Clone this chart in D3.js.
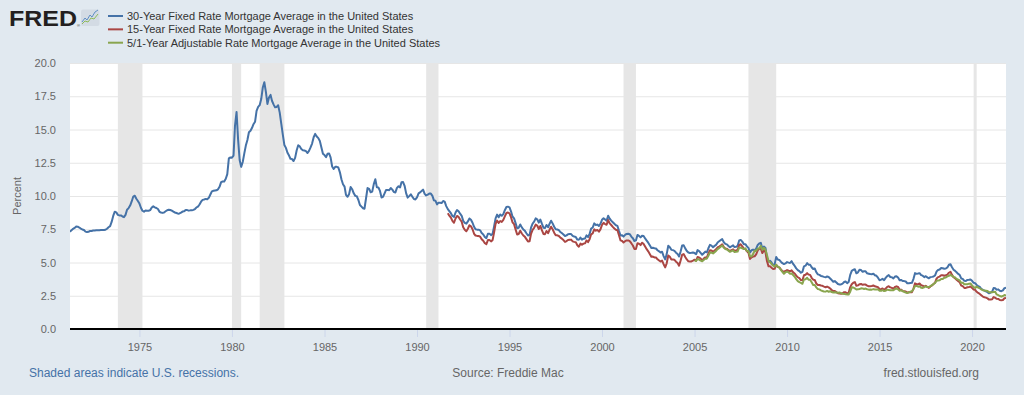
<!DOCTYPE html>
<html>
<head>
<meta charset="utf-8">
<script src="https://cdn.jsdelivr.net/npm/d3@7"></script>
<style>
  html, body { margin: 0; padding: 0; background: #e1e9f0; }
  svg { display: block; font-family: "Liberation Sans", Arial, sans-serif; }
</style>
</head>
<body>
<div id="chart"></div>
<script>
// monthly values (percent)
var start30 = "1971-04";
var rate30 = [
  7.31,7.43,7.53,7.60,7.70,7.69,7.63,7.55,7.48,                 // 1971
  7.44,7.32,7.29,7.31,7.37,7.37,7.40,7.40,7.42,7.42,7.43,7.44,  // 1972
  7.44,7.44,7.46,7.54,7.65,7.73,8.05,8.50,8.82,8.77,8.58,8.54,  // 1973
  8.54,8.46,8.41,8.58,8.97,9.09,9.28,9.59,9.96,10.02,9.79,9.62, // 1974
  9.43,9.10,8.89,8.82,8.91,8.89,8.89,8.94,9.13,9.22,9.15,9.10,  // 1975
  9.02,8.81,8.76,8.73,8.76,8.85,8.93,8.97,8.95,8.90,8.82,8.76,  // 1976
  8.72,8.67,8.69,8.75,8.83,8.86,8.94,8.94,8.90,8.92,8.92,8.96,  // 1977
  9.02,9.15,9.20,9.36,9.57,9.71,9.74,9.78,9.76,9.86,10.11,10.35,// 1978
  10.39,10.41,10.43,10.50,10.69,11.04,11.09,11.09,11.30,11.64,12.83,12.90, // 1979
  12.88,13.04,15.28,16.32,14.26,12.71,12.19,12.56,13.20,13.79,14.21,14.79, // 1980
  14.90,15.13,15.40,15.58,16.40,16.70,16.83,17.29,18.16,18.55,17.83,16.92, // 1981
  17.40,17.60,17.16,16.89,16.68,16.70,16.82,16.27,15.43,14.61,13.83,13.62, // 1982
  13.25,13.04,12.80,12.78,12.63,12.87,13.42,13.81,13.73,13.54,13.44,13.42, // 1983
  13.37,13.23,13.39,13.65,13.94,14.42,14.67,14.47,14.35,14.13,13.64,13.18, // 1984
  13.08,12.92,13.17,13.20,12.91,12.22,12.03,12.19,12.19,12.14,11.78,11.26, // 1985
  10.88,10.71,10.08,9.94,10.14,10.68,10.51,10.20,10.01,9.98,9.70,9.32,     // 1986
  9.20,9.08,9.04,9.83,10.60,10.54,10.28,10.33,10.89,11.26,10.65,10.64,     // 1987
  10.38,9.89,9.93,10.20,10.46,10.46,10.43,10.60,10.48,10.30,10.27,10.61,   // 1988
  10.73,10.65,11.03,11.05,10.77,10.20,9.88,9.99,10.13,9.95,9.77,9.74,      // 1989
  9.90,10.20,10.27,10.37,10.48,10.16,10.04,10.10,10.18,10.18,10.01,9.67,   // 1990
  9.64,9.37,9.50,9.49,9.47,9.62,9.58,9.24,9.01,8.86,8.71,8.50,  // 1991
  8.43,8.76,8.94,8.85,8.67,8.51,8.13,7.98,7.92,8.09,8.31,8.22,  // 1992
  7.99,7.68,7.50,7.47,7.47,7.42,7.21,7.11,6.92,6.83,7.16,7.17,  // 1993
  7.06,7.15,7.68,8.32,8.60,8.40,8.61,8.51,8.64,8.93,9.17,9.20,  // 1994
  9.15,8.83,8.46,8.32,7.96,7.57,7.61,7.86,7.64,7.48,7.38,7.20,  // 1995
  7.03,7.08,7.62,7.93,8.07,8.32,8.25,8.00,8.23,7.92,7.62,7.60,  // 1996
  7.82,7.65,7.90,8.14,7.94,7.69,7.50,7.48,7.43,7.29,7.21,7.10,  // 1997
  6.99,7.04,7.13,7.14,7.14,7.00,6.95,6.92,6.72,6.71,6.87,6.72,  // 1998
  6.79,6.81,7.04,6.92,7.15,7.55,7.63,7.94,7.82,7.85,7.74,7.91,  // 1999
  8.21,8.33,8.24,8.15,8.52,8.29,8.15,8.03,7.91,7.80,7.75,7.38,  // 2000
  7.03,7.05,6.95,7.08,7.15,7.16,7.13,6.95,6.82,6.62,6.66,7.07,  // 2001
  7.00,6.89,7.01,6.99,6.81,6.65,6.49,6.29,6.09,6.11,6.07,6.05,  // 2002
  5.92,5.84,5.75,5.81,5.48,5.23,5.63,6.26,6.15,5.95,5.93,5.88,  // 2003
  5.74,5.64,5.45,5.83,6.27,6.29,6.06,5.87,5.75,5.72,5.73,5.75,  // 2004
  5.71,5.63,5.93,5.86,5.72,5.58,5.70,5.82,5.77,6.07,6.33,6.27,  // 2005
  6.15,6.25,6.32,6.51,6.60,6.68,6.76,6.52,6.40,6.36,6.24,6.14,  // 2006
  6.22,6.29,6.16,6.18,6.26,6.66,6.70,6.57,6.38,6.38,6.21,6.10,  // 2007
  5.76,5.92,5.97,5.92,6.04,6.32,6.43,6.48,6.04,6.20,6.09,5.33,  // 2008
  5.06,5.13,5.00,4.81,4.86,5.42,5.22,5.19,5.06,4.95,4.88,4.93,  // 2009
  5.03,4.99,4.97,5.10,4.89,4.74,4.56,4.43,4.35,4.23,4.30,4.71,  // 2010
  4.76,4.95,4.84,4.84,4.64,4.51,4.55,4.27,4.11,4.07,3.99,3.96,  // 2011
  3.92,3.89,3.95,3.91,3.80,3.68,3.55,3.60,3.50,3.38,3.35,3.35,  // 2012
  3.41,3.53,3.57,3.45,3.54,4.07,4.37,4.46,4.49,4.19,4.26,4.46,  // 2013
  4.43,4.30,4.34,4.34,4.19,4.16,4.13,4.12,4.16,4.04,4.00,3.86,  // 2014
  3.67,3.71,3.77,3.67,3.84,3.98,4.05,3.91,3.89,3.80,3.94,3.96,  // 2015
  3.87,3.66,3.69,3.61,3.60,3.57,3.44,3.44,3.46,3.47,3.77,4.20,  // 2016
  4.15,4.17,4.20,4.05,4.01,3.90,3.97,3.88,3.81,3.90,3.92,3.95,  // 2017
  4.03,4.33,4.44,4.47,4.59,4.57,4.53,4.55,4.63,4.83,4.87,4.64,  // 2018
  4.46,4.37,4.27,4.14,4.07,3.80,3.77,3.62,3.61,3.69,3.70,3.72,  // 2019
  3.62,3.47,3.45,3.31,3.23,3.16,3.02,2.94,2.89,2.83,2.77,2.68,  // 2020
  2.74,2.81,3.08,3.06,2.96,2.98,2.87,2.84,2.90,3.07,3.10       // 2021
];

var start15 = "1991-09";
var rate15 = [
  8.70,8.52,8.37,8.13,                                          // 1991
  7.99,8.31,8.50,8.43,8.23,8.06,7.65,7.46,7.35,7.54,7.80,7.72,  // 1992
  7.50,7.16,7.03,7.00,6.99,6.94,6.75,6.63,6.45,6.38,6.69,6.69,  // 1993
  6.59,6.68,7.23,7.90,8.15,7.97,8.12,8.05,8.20,8.47,8.72,8.76,  // 1994
  8.69,8.39,8.02,7.88,7.49,7.10,7.14,7.39,7.18,7.03,6.93,6.76,  // 1995
  6.58,6.60,7.16,7.46,7.61,7.85,7.78,7.52,7.75,7.43,7.15,7.13,  // 1996
  7.37,7.20,7.46,7.69,7.50,7.24,7.05,7.04,6.99,6.87,6.79,6.69,  // 1997
  6.55,6.61,6.70,6.71,6.72,6.59,6.55,6.53,6.30,6.19,6.42,6.33,  // 1998
  6.42,6.44,6.66,6.53,6.75,7.12,7.19,7.49,7.39,7.45,7.32,7.49,  // 1999
  7.83,7.98,7.89,7.84,8.19,7.94,7.82,7.68,7.56,7.46,7.42,7.05,  // 2000
  6.66,6.62,6.50,6.60,6.66,6.66,6.61,6.45,6.28,6.02,6.02,6.45,  // 2001
  6.41,6.31,6.49,6.40,6.20,6.00,5.84,5.64,5.43,5.45,5.38,5.38,  // 2002
  5.24,5.15,5.07,5.15,4.87,4.63,4.94,5.53,5.43,5.23,5.22,5.20,  // 2003
  5.06,4.96,4.76,5.15,5.58,5.63,5.41,5.23,5.09,5.07,5.08,5.14,  // 2004
  5.21,5.14,5.41,5.38,5.30,5.14,5.30,5.38,5.39,5.67,5.92,5.90,  // 2005
  5.80,5.90,5.99,6.13,6.20,6.28,6.37,6.16,6.06,6.04,5.94,5.87,  // 2006
  5.93,5.99,5.87,5.90,5.96,6.32,6.37,6.22,6.04,6.02,5.84,5.73,  // 2007
  5.27,5.39,5.45,5.47,5.61,5.91,6.03,6.04,5.71,5.91,5.78,5.09,  // 2008
  4.71,4.71,4.61,4.51,4.53,4.82,4.67,4.63,4.48,4.35,4.31,4.36,  // 2009
  4.43,4.38,4.34,4.41,4.26,4.17,4.01,3.89,3.82,3.68,3.66,4.04,  // 2010
  4.08,4.20,4.09,4.07,3.85,3.71,3.69,3.42,3.31,3.31,3.27,3.25,  // 2011
  3.19,3.14,3.19,3.13,3.04,2.93,2.85,2.86,2.77,2.69,2.66,2.65,  // 2012
  2.69,2.77,2.76,2.66,2.73,3.15,3.37,3.48,3.53,3.25,3.28,3.37,  // 2013
  3.39,3.32,3.34,3.34,3.26,3.21,3.22,3.23,3.27,3.21,3.18,3.15,  // 2014
  3.00,2.99,3.05,2.94,3.04,3.17,3.21,3.13,3.09,3.02,3.16,3.21,  // 2015
  3.16,2.96,2.96,2.86,2.84,2.82,2.74,2.77,2.76,2.77,3.04,3.43,  // 2016
  3.37,3.37,3.42,3.29,3.26,3.18,3.25,3.16,3.09,3.20,3.27,3.38,  // 2017
  3.48,3.80,3.90,3.94,4.04,4.04,4.00,4.04,4.09,4.23,4.30,4.07,  // 2018
  3.89,3.81,3.71,3.60,3.53,3.26,3.22,3.09,3.09,3.14,3.16,3.19,  // 2019
  3.09,2.97,2.95,2.80,2.71,2.64,2.54,2.44,2.39,2.36,2.30,2.21,  // 2020
  2.21,2.23,2.40,2.35,2.27,2.26,2.18,2.16,2.18,2.31,2.33       // 2021
];

var startArm = "2005-01";
var rateArm = [
  5.15,5.11,5.26,5.22,5.14,5.09,5.19,5.28,5.29,5.50,5.76,5.74,  // 2005
  5.68,5.78,5.87,6.01,6.08,6.19,6.28,6.11,6.02,5.98,5.89,5.80,  // 2006
  5.86,5.90,5.79,5.80,5.82,6.11,6.12,6.07,6.01,6.06,5.86,5.87,  // 2007
  5.47,5.45,5.63,5.90,5.87,6.05,6.05,6.26,5.94,6.11,5.96,5.54,  // 2008
  5.11,5.02,4.89,4.78,4.69,4.83,4.69,4.61,4.45,4.30,4.15,4.27,  // 2009
  4.31,4.25,4.16,4.17,4.06,3.93,3.75,3.60,3.52,3.47,3.40,3.72,  // 2010
  3.74,3.85,3.71,3.70,3.52,3.31,3.31,3.13,3.00,2.98,2.91,2.86,  // 2011
  2.82,2.81,2.86,2.80,2.84,2.78,2.74,2.77,2.75,2.73,2.75,2.70,  // 2012
  2.65,2.64,2.62,2.59,2.59,2.80,3.13,3.12,3.05,2.97,2.98,3.00,  // 2013
  3.06,3.05,3.01,3.04,2.99,2.96,2.97,2.96,3.00,2.97,2.97,2.98,  // 2014
  2.87,2.87,2.93,2.85,2.87,2.96,2.94,2.92,2.91,2.91,3.00,3.04,  // 2015
  2.98,2.87,2.92,2.84,2.80,2.74,2.70,2.75,2.80,2.84,3.00,3.23,  // 2016
  3.24,3.18,3.21,3.10,3.09,3.14,3.20,3.15,3.15,3.22,3.30,3.38,  // 2017
  3.47,3.63,3.65,3.66,3.76,3.76,3.86,3.88,3.96,4.00,4.07,4.00,  // 2018
  3.92,3.87,3.77,3.71,3.65,3.47,3.48,3.36,3.37,3.36,3.41,3.42,  // 2019
  3.28,3.15,3.09,3.20,3.11,3.06,2.98,2.92,2.90,2.88,2.86,2.77,  // 2020
  2.77,2.76,2.78,2.80,2.60,2.55,2.48,2.43,2.48,2.55,2.52       // 2021
];

var recessions = [
  ["1973-11-01", "1975-03-01"],
  ["1980-01-01", "1980-07-01"],
  ["1981-07-01", "1982-11-01"],
  ["1990-07-01", "1991-03-01"],
  ["2001-03-01", "2001-11-01"],
  ["2007-12-01", "2009-06-01"],
  ["2020-02-01", "2020-04-01"]
];

var yTicks = [0, 2.5, 5, 7.5, 10, 12.5, 15, 17.5, 20];
var xTickYears = [1975, 1980, 1985, 1990, 1995, 2000, 2005, 2010, 2015, 2020];

var seriesNames = [
  "30-Year Fixed Rate Mortgage Average in the United States",
  "15-Year Fixed Rate Mortgage Average in the United States",
  "5/1-Year Adjustable Rate Mortgage Average in the United States"
];
var seriesColors = ["#4572a7", "#aa4643", "#89a54e"];

var parseMonth = d3.timeParse("%Y-%m");
var parseDay = d3.timeParse("%Y-%m-%d");

function toPoints(startMonth, values) {
  var s = parseMonth(startMonth);
  return values.map(function(v, i) {
    return { date: d3.timeMonth.offset(s, i), value: v };
  });
}

var series = [
  toPoints(start30, rate30),
  toPoints(start15, rate15),
  toPoints(startArm, rateArm)
];

var W = 1024, H = 395;
var margin = {top: 63, right: 18, bottom: 66, left: 70};
var width = W - margin.left - margin.right,
    height = H - margin.top - margin.bottom;

var svg = d3.select("#chart").append("svg")
  .attr("width", W)
  .attr("height", H);

svg.append("rect").attr("width", W).attr("height", H).attr("fill", "#e1e9f0");

var x = d3.scaleTime()
  .domain(d3.extent(series[0], function(d) { return d.date; }))
  .range([0, width]);
var y = d3.scaleLinear().domain([0, 20]).range([height, 0]);

var g = svg.append("g")
  .attr("transform", "translate(" + margin.left + "," + margin.top + ")");

g.append("rect")
  .attr("width", width)
  .attr("height", height)
  .attr("fill", "#ffffff");

g.append("clipPath").attr("id", "plotclip")
  .append("rect").attr("width", width).attr("height", height);

// recession bands
g.selectAll(".rec")
  .data(recessions)
  .enter().append("rect")
  .attr("class", "rec")
  .attr("x", function(d) { return x(parseDay(d[0])); })
  .attr("width", function(d) { return x(parseDay(d[1])) - x(parseDay(d[0])); })
  .attr("y", 0)
  .attr("height", height)
  .attr("fill", "#e6e6e6");

// grid + y labels
var yAxis = g.append("g")
  .call(d3.axisLeft(y).tickValues(yTicks).tickFormat(d3.format(".1f")).tickSize(-width).tickPadding(14));
yAxis.select(".domain").remove();
yAxis.selectAll(".tick line").attr("stroke", "#e6e6e6").attr("stroke-width", 1);
yAxis.selectAll(".tick text")
  .attr("fill", "#666666")
  .style("font-size", "11px")
  .style("font-family", "Liberation Sans, Arial, sans-serif");

var line = d3.line()
  .x(function(d) { return x(d.date); })
  .y(function(d) { return y(d.value); });

g.append("g").attr("clip-path", "url(#plotclip)")
  .selectAll(".series")
  .data(series)
  .enter().append("path")
  .attr("class", "series")
  .attr("d", line)
  .attr("fill", "none")
  .attr("stroke", function(d, i) { return seriesColors[i]; })
  .attr("stroke-width", 2)
  .attr("stroke-linejoin", "round");

// x axis
var xAxis = g.append("g")
  .attr("transform", "translate(0," + height + ")")
  .call(d3.axisBottom(x)
    .tickValues(xTickYears.map(function(yr) { return new Date(yr, 0, 1); }))
    .tickFormat(d3.timeFormat("%Y"))
    .tickSizeInner(8).tickSizeOuter(0).tickPadding(6));
xAxis.select(".domain").remove();
xAxis.selectAll(".tick line").attr("stroke", "#ccd6eb").attr("y1", 1);
xAxis.selectAll(".tick text")
  .attr("fill", "#666666")
  .style("font-size", "11px")
  .style("font-family", "Liberation Sans, Arial, sans-serif");
g.append("line")
  .attr("x1", 0).attr("x2", width)
  .attr("y1", height).attr("y2", height)
  .attr("stroke", "#000000").attr("stroke-width", 2);

// y title
svg.append("text")
  .attr("transform", "translate(21," + (margin.top + height / 2) + ") rotate(-90)")
  .attr("text-anchor", "middle")
  .attr("fill", "#666666")
  .style("font-size", "11px")
  .text("Percent");

// logo
var logo = svg.append("g");
logo.append("text")
  .attr("x", 9).attr("y", 26)
  .attr("textLength", 68).attr("lengthAdjust", "spacingAndGlyphs")
  .attr("fill", "#231f20")
  .style("font-size", "22px").style("font-weight", "bold")
  .text("FRED");
logo.append("text")
  .attr("x", 77).attr("y", 27)
  .attr("fill", "#231f20")
  .style("font-size", "4px")
  .text("\u00ae");
logo.append("rect")
  .attr("x", 81).attr("y", 9.5).attr("width", 18.5).attr("height", 16.5).attr("rx", 2)
  .attr("fill", "#d3dbe4");
logo.append("path")
  .attr("d", "M82,22 L85,18 L87,20 L90,15 L92,17 L95,12 L98,10")
  .attr("fill", "none").attr("stroke", "#5f8fc4").attr("stroke-width", 1);
logo.append("path")
  .attr("d", "M82,24 L85,21 L88,22 L91,18 L94,19 L98,14")
  .attr("fill", "none").attr("stroke", "#8dbb5a").attr("stroke-width", 1);

// legend
var legend = svg.append("g").attr("transform", "translate(108,16)");
var items = legend.selectAll(".item")
  .data(seriesNames)
  .enter().append("g")
  .attr("class", "item")
  .attr("transform", function(d, i) { return "translate(0," + (i * 13.35) + ")"; });
items.append("line")
  .attr("x1", 0).attr("x2", 15)
  .attr("stroke", function(d, i) { return seriesColors[i]; })
  .attr("stroke-width", 2);
items.append("text")
  .attr("x", 19).attr("y", 4)
  .attr("fill", "#333333")
  .style("font-size", "11px")
  .text(function(d) { return d; });

// footer
svg.append("text")
  .attr("x", 29).attr("y", 377)
  .attr("fill", "#4572a7")
  .style("font-size", "12px")
  .text("Shaded areas indicate U.S. recessions.");
svg.append("text")
  .attr("x", 508).attr("y", 377)
  .attr("text-anchor", "middle")
  .attr("fill", "#666666")
  .style("font-size", "12px")
  .text("Source: Freddie Mac");
svg.append("text")
  .attr("x", 979).attr("y", 377)
  .attr("text-anchor", "end")
  .attr("fill", "#666666")
  .style("font-size", "12px")
  .text("fred.stlouisfed.org");
</script>
</body>
</html>
